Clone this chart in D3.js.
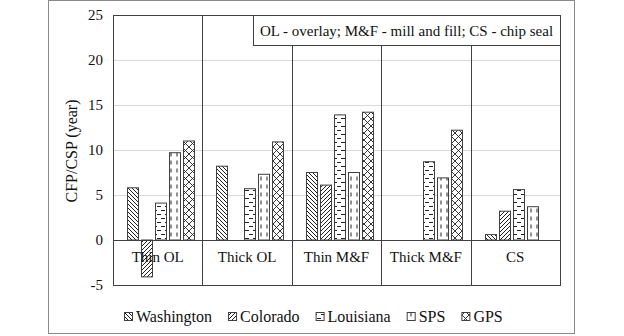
<!DOCTYPE html>
<meta charset="utf-8">
<title>CFP/CSP</title>
<style>
    body { margin: 0; background: #fff; }
    text { font-family: "Liberation Serif", "Times New Roman", serif; fill: #111; }
</style>
<body>
<script src="https://cdn.jsdelivr.net/npm/d3@7"></script>
<script>
    var categories = ["Thin OL", "Thick OL", "Thin M&F", "Thick M&F", "CS"];
    var seriesNames = ["Washington", "Colorado", "Louisiana", "SPS", "GPS"];
    // null = no bar
    var washington = [5.8, 8.2, 7.5, null, 0.6];
    var colorado   = [-4.1, null, 6.1, null, 3.2];
    var louisiana  = [4.1, 5.7, 13.9, 8.7, 5.6];
    var sps        = [9.7, 7.3, 7.5, 6.9, 3.7];
    var gps        = [11.0, 10.9, 14.2, 12.2, null];
    var yTicks = [-5, 0, 5, 10, 15, 20, 25];
    var note = "OL - overlay; M&F - mill and fill; CS - chip seal";

    var values = [washington, colorado, louisiana, sps, gps];
    var W = 624, H = 336;
    // plot area (note: "top" is reserved on window)
    var pL = 113, pR = 560, pT = 15, pB = 285;

    var svg = d3.select("body").append("svg").attr("width", W).attr("height", H);
    var defs = svg.append("defs");

    function pat(id, w, h, draw) {
        var p = defs.append("pattern").attr("id", id).attr("patternUnits", "userSpaceOnUse")
            .attr("width", w).attr("height", h);
        p.append("rect").attr("width", w).attr("height", h).attr("fill", "#fff");
        draw(p);
    }
    // Washington: downward diagonals
    pat("p0", 4, 4, function (p) {
        p.append("path").attr("d", "M-1,-1L5,5M-1,3L1,5M3,-1L5,1").attr("stroke", "#222").attr("stroke-width", 1);
    });
    // Colorado: upward diagonals
    pat("p1", 4, 4, function (p) {
        p.append("path").attr("d", "M-1,5L5,-1M-1,1L1,-1M3,5L5,3").attr("stroke", "#222").attr("stroke-width", 1);
    });
    // Louisiana: horizontal dashes, brick offset
    pat("p2", 8, 8, function (p) {
        p.append("path").attr("d", "M1,2.5H5M5,6.5H9M-3,6.5H1").attr("stroke", "#222").attr("stroke-width", 1);
    });
    // SPS: vertical dashes
    pat("p3", 6, 8, function (p) {
        p.append("path").attr("d", "M3,0.5V4.5").attr("stroke", "#222").attr("stroke-width", 1);
    });
    // GPS: diagonal lattice
    pat("p4", 7, 7, function (p) {
        p.append("path").attr("d", "M0,0L7,7M7,0L0,7").attr("stroke", "#222").attr("stroke-width", 0.9);
    });

    // outer frame
    svg.append("rect").attr("x", 48.5).attr("y", 0.5).attr("width", 526).attr("height", 333)
        .attr("fill", "none").attr("stroke", "#8a8a8a");

    var y = d3.scaleLinear().domain([-5, 25]).range([pB, pT]);
    var x0 = d3.scaleBand().domain(categories).range([pL, pR]);
    var x1 = d3.scaleBand().domain(seriesNames).range([0, x0.bandwidth()])
        .paddingInner(0.18).paddingOuter(0.78).align(0.64);

    // gridlines
    svg.append("g").selectAll("line").data(yTicks.filter(function (t) { return t > 0 && t < 25; }))
        .enter().append("line")
        .attr("x1", pL).attr("x2", pR)
        .attr("y1", function (d) { return y(d) + 0.5; }).attr("y2", function (d) { return y(d) + 0.5; })
        .attr("stroke", "#d9d9d9");

    // y axis labels (plain hyphen for negatives)
    var yAxis = d3.axisLeft(y).tickValues(yTicks).tickSize(0).tickPadding(10)
        .tickFormat(function (d) { return String(d); });
    var ya = svg.append("g").attr("transform", "translate(" + pL + ",0)").call(yAxis);
    ya.select(".domain").remove();
    ya.selectAll("text").style("font-family", "Liberation Serif").style("font-size", "15px").attr("fill", "#111");

    svg.append("text").attr("transform", "translate(77," + (y(10) + 1) + ") rotate(-90)")
        .attr("text-anchor", "middle").style("font-size", "16px").text("CFP/CSP (year)");

    // bars
    var rows = [];
    values.forEach(function (arr, si) {
        arr.forEach(function (v, ci) {
            if (v !== null) rows.push({s: si, c: ci, v: v});
        });
    });
    svg.append("g").selectAll("rect").data(rows).enter().append("rect")
        .attr("x", function (d) { return Math.round(x0(categories[d.c]) + x1(seriesNames[d.s])) + 0.5; })
        .attr("width", Math.round(x1.bandwidth()))
        .attr("y", function (d) { return y(Math.max(0, d.v)); })
        .attr("height", function (d) { return Math.abs(y(d.v) - y(0)); })
        .attr("fill", function (d) { return "url(#p" + d.s + ")"; })
        .attr("stroke", "#404040").attr("stroke-width", 1);

    // zero line, category separators, border
    svg.append("line").attr("x1", pL).attr("x2", pR).attr("y1", y(0) + 0.5).attr("y2", y(0) + 0.5)
        .attr("stroke", "#404040");
    svg.append("g").selectAll("line").data(categories.slice(1)).enter().append("line")
        .attr("x1", function (d) { return Math.round(x0(d)) + 0.5; })
        .attr("x2", function (d) { return Math.round(x0(d)) + 0.5; })
        .attr("y1", pT).attr("y2", pB).attr("stroke", "#404040");
    svg.append("rect").attr("x", pL + 0.5).attr("y", pT + 0.5).attr("width", pR - pL)
        .attr("height", pB - pT).attr("fill", "none").attr("stroke", "#404040");

    // category labels
    svg.append("g").selectAll("text").data(categories).enter().append("text")
        .attr("x", function (d) { return x0(d) + x0.bandwidth() / 2; })
        .attr("y", y(0) + 22).attr("text-anchor", "middle").style("font-size", "15px")
        .text(function (d) { return d; });

    // note box
    svg.append("rect").attr("x", 253.5).attr("y", pT + 0.5).attr("width", pR - 253).attr("height", 30)
        .attr("fill", "#fff").attr("stroke", "#404040");
    svg.append("text").attr("x", (253 + pR) / 2).attr("y", pT + 21).attr("text-anchor", "middle")
        .style("font-size", "15px").text(note);

    // legend
    var lx = 124;
    seriesNames.forEach(function (name, i) {
        var g = svg.append("g");
        g.append("rect").attr("x", lx + 0.5).attr("y", 312.5).attr("width", 8).attr("height", 8)
            .attr("fill", "url(#p" + i + ")").attr("stroke", "#404040");
        var t = g.append("text").attr("x", lx + 12).attr("y", 322).style("font-size", "16px").text(name);
        lx += 12 + t.node().getComputedTextLength() + 16;
    });
</script>
</body>
